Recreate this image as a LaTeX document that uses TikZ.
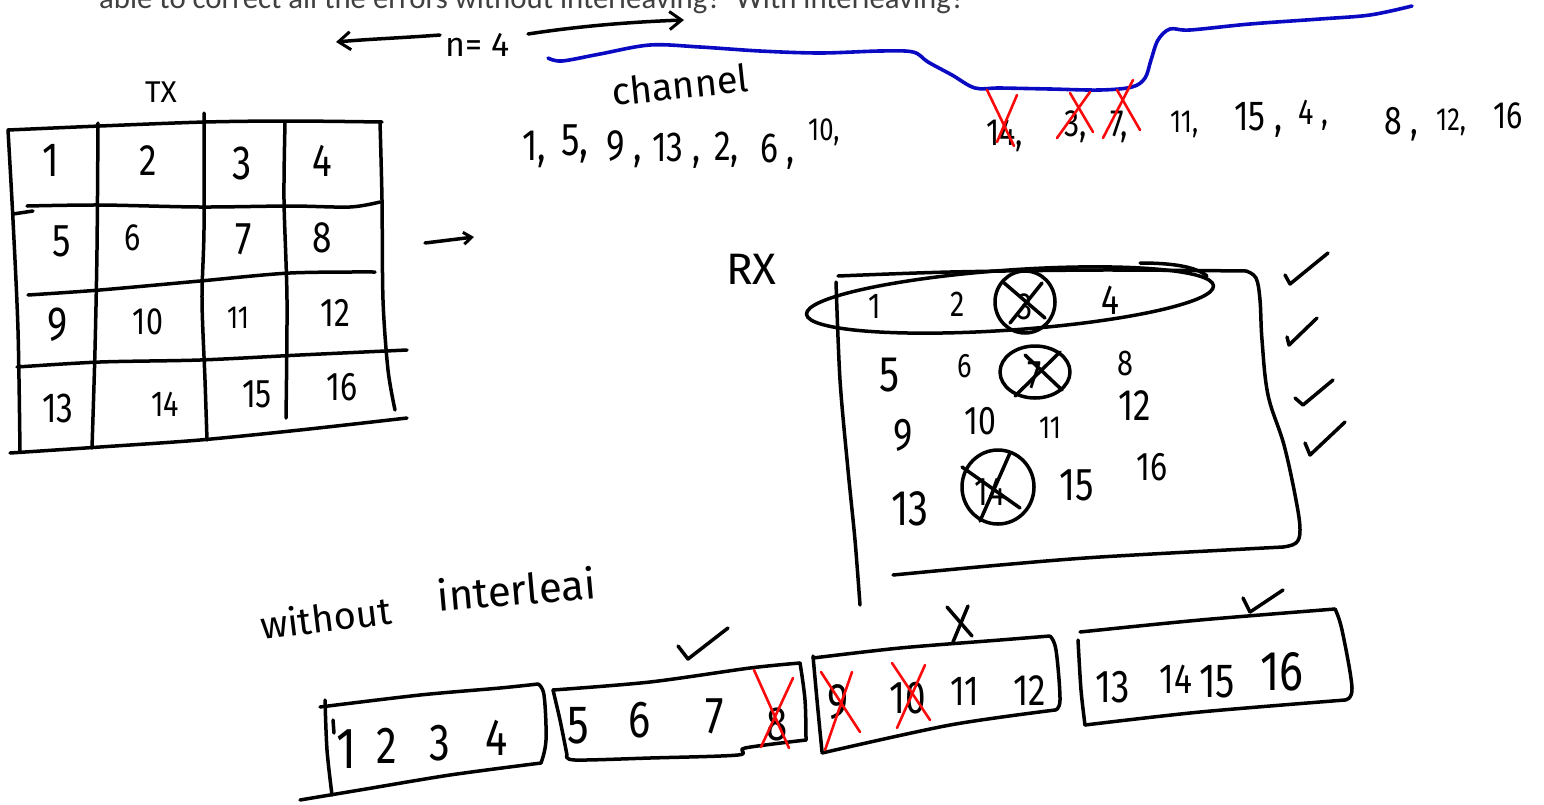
\documentclass[tikz,border=0pt]{standalone}
\usepackage{fontspec}
\setmainfont{Fira Sans}
\newfontfamily\topfont{Carlito}
\newfontfamily\hand[FakeStretch=0.8]{Fira Sans}
\usetikzlibrary{arrows.meta}
\definecolor{penblue}{RGB}{10,10,195}
\definecolor{penred}{RGB}{250,10,10}
\begin{document}
\begin{tikzpicture}[x=1pt,y=-1pt,
  ink/.style={line width=3.5pt,line cap=round,line join=round,black},
  redink/.style={line width=2.6pt,line cap=round,line join=round,penred},
  blueink/.style={line width=3.6pt,line cap=round,line join=round,penblue},
  hw/.style={inner sep=0pt,anchor=base,font=\hand\fontsize{#1}{#1}\selectfont},
  hl/.style={inner sep=0pt,anchor=base west,font=\hand\fontsize{#1}{#1}\selectfont},
  word/.style={inner sep=0pt,anchor=base west,font=\fontsize{#1}{#1}\selectfont},
  barb/.style={-{Straight Barb[length=12pt,width=18pt,line width=3pt]}},
]
\useasboundingbox (0,0) rectangle (1544,804);
\clip (0,0) rectangle (1544,804);

% question text, cut at the top
\node[anchor=base west,inner sep=0pt,text=black!75,font=\topfont\fontsize{30.8}{30.8}\selectfont] (question) at (99,8) {able to correct all the errors without interleaving?\ \ With interleaving?};

% n = 4 with arrows
\node[word=34] (nlabel) at (445,56) {n= 4};
\coordinate (nlstart) at (440,35);
\coordinate (nltip) at (336,42);
\coordinate (nrstart) at (528,34);
\coordinate (nrtip) at (684,20);
\draw[ink,barb] (nlstart) .. controls (400,38) and (370,39) .. (nltip);
\draw[ink,barb] (nrstart) .. controls (580,26) and (630,22) .. (nrtip);

% channel curve
\draw[blueink] plot[smooth,tension=0.55] coordinates {(548,58) (562,61) (600,54) (650,45) (700,47) (760,51) (820,53) (880,51) (913,52) (928,62) (952,75) (975,88) (1000,88) (1050,89) (1100,90) (1132,87) (1145,78) (1151,60) (1158,40) (1170,29) (1190,30) (1250,24) (1320,19) (1370,15) (1412,6)};
\node[word=38,rotate=6] (channel) at (613,106) {channel};

% channel sequence
\node[hl=44] (c1) at (522,160) {1,};
\node[hl=46] (c2) at (561,155) {5,};
\node[hl=44] (c3) at (606,160) {9 ,};
\node[hl=42] (c4) at (652,161) {13 ,};
\node[hl=42] (c5) at (714,160) {2,};
\node[hl=42] (c6) at (760,162) {6 ,};
\node[hl=32] (c7) at (808,140) {10,};
\node[hl=38] (c8) at (986,145) {14,};
\node[hl=38] (c9) at (1064,136) {3,};
\node[hl=38] (c10) at (1110,136) {7,};
\node[hl=32] (c11) at (1170,132) {11,};
\node[hl=42] (c12) at (1234,130) {15 ,};
\node[hl=36] (c13) at (1298,124) {4 ,};
\node[hl=40] (c14) at (1384,134) {8 ,};
\node[hl=32] (c15) at (1436,130) {12,};
\node[hl=38] (c16) at (1493,128) {16};
\draw[redink] (987,90) -- (1014,146);
\draw[redink] (1017,95) -- (997,142);
\draw[redink] (1090,92) -- (1057,138);
\draw[redink] (1070,93) -- (1093,132);
\draw[redink] (1133,80) -- (1103,138);
\draw[redink] (1117,90) -- (1140,130);

% TX grid
\node[word=30] (txlabel) at (145,102) {TX};
\draw[ink] plot[smooth] coordinates {(8,130) (100,126) (205,122) (290,121) (382,122)};
\draw[ink] plot[smooth] coordinates {(8,130) (13,220) (18,330) (20,452)};
\draw[ink] plot[smooth] coordinates {(98,123) (97,250) (95,350) (92,448)};
\draw[ink] plot[smooth] coordinates {(204,113) (204,230) (202,300) (205,380) (207,440)};
\draw[ink] plot[smooth] coordinates {(285,123) (284,200) (287,300) (286,418)};
\draw[ink] plot[smooth] coordinates {(380,122) (382,200) (383,300) (388,370) (395,410)};
\draw[ink] (13,214) -- (33,211);
\draw[ink] plot[smooth] coordinates {(27,206) (100,205) (200,207) (290,206) (350,207) (380,202)};
\draw[ink] plot[smooth] coordinates {(28,295) (100,290) (200,281) (290,273) (375,272)};
\draw[ink] plot[smooth] coordinates {(17,367) (100,362) (200,360) (300,355) (407,350)};
\draw[ink] plot[smooth] coordinates {(10,453) (100,447) (200,440) (300,430) (407,418)};
\node[hw=48] (t1) at (51,176) {1};
\node[hw=44] (t2) at (148,175) {2};
\node[hw=48] (t3) at (242,179) {3};
\node[hw=46] (t4) at (322,176) {4};
\node[hw=46] (t5) at (62,256) {5};
\node[hw=38] (t6) at (133,250) {6};
\node[hw=46] (t7) at (244,254) {7};
\node[hw=44] (t8) at (322,252) {8};
\node[hw=48] (t9) at (58,340) {9};
\node[hw=38] (t10) at (148,334) {10};
\node[hw=32] (t11) at (238,328) {11};
\node[hw=40] (t12) at (335,326) {12};
\node[hw=42] (t13) at (58,422) {13};
\node[hw=36] (t14) at (165,416) {14};
\node[hw=40] (t15) at (257,407) {15};
\node[hw=40] (t16) at (342,400) {16};
\coordinate (txarrowstart) at (425,243);
\coordinate (txarrowtip) at (474,237);
\draw[ink,-{Straight Barb[length=8pt,width=12pt,line width=3pt]}] (txarrowstart) -- (txarrowtip);

% RX box
\node[word=44] (rxlabel) at (726,284) {RX};
\draw[ink] plot[smooth] coordinates {(838,276) (950,272) (1100,270) (1246,271)};
\draw[ink] plot[smooth,tension=0.6] coordinates {(1246,271) (1256,278) (1260,300) (1262,340) (1268,395) (1284,445) (1296,500) (1300,530) (1296,543) (1283,547)};
\draw[ink] plot[smooth] coordinates {(1283,547) (1100,557) (1000,565) (893,575)};
\draw[ink] plot[smooth] coordinates {(836,282) (840,380) (848,470) (855,540) (860,605)};
\draw[ink,rotate around={4:(1010,300)}] (1010,300) ellipse [x radius=204, y radius=30];
\draw[ink] (1140,263) .. controls (1170,263) and (1195,266) .. (1207,276);

\node[hw=36] (r1) at (875,318) {1};
\node[hw=36] (r2) at (958,316) {2};
\node[hw=38] (r3) at (1025,319) {3};
\node[hw=42] (r4) at (1110,314) {4};
\node[hw=50] (r5) at (890,391) {5};
\node[hw=34] (r6) at (965,377) {6};
\node[hw=40] (r7) at (1035,388) {7};
\node[hw=36] (r8) at (1125,375) {8};
\node[hw=46] (r9) at (903,450) {9};
\node[hw=40] (r10) at (980,434) {10};
\node[hw=32] (r11) at (1050,438) {11};
\node[hw=44] (r12) at (1135,420) {12};
\node[hw=50] (r13) at (910,525) {13};
\node[hw=40] (r14) at (990,505) {14};
\node[hw=46] (r15) at (1077,500) {15};
\node[hw=40] (r16) at (1152,480) {16};
\draw[ink] (1025,302) ellipse [x radius=30, y radius=31];
\draw[ink] (1003,282) -- (1045,318);
\draw[ink] (1010,323) -- (1042,283);
\draw[ink] (1035,372) ellipse [x radius=35, y radius=26];
\draw[ink] (1015,396) -- (1060,352);
\draw[ink] (1025,355) -- (1062,390);
\draw[ink] (998,487) ellipse [x radius=36, y radius=37];
\draw[ink] (962,467) -- (1020,508);
\draw[ink] (980,521) -- (1010,453);
\draw[ink] (1285,275) -- (1290,284) -- (1328,253);
\draw[ink] (1287,337) -- (1289,345) -- (1317,318);
\draw[ink] (1295,398) -- (1303,405) -- (1333,380);
\draw[ink] (1305,443) -- (1310,455) -- (1345,422);

% without interleaving
\node[word=38,rotate=7] (without) at (262,640) {without};
\node[word=42,rotate=5] (interl) at (438,612) {interleai};

% bottom boxes
\draw[ink] plot[smooth] coordinates {(320,707) (420,695) (500,688) (538,684)};
\draw[ink] plot[smooth,tension=0.6] coordinates {(538,684) (544,695) (546,740) (541,763)};
\draw[ink] plot[smooth] coordinates {(541,763) (450,775) (360,790) (300,800)};
\draw[ink] plot[smooth] coordinates {(325,700) (327,750) (332,795)};
\draw[ink] (333,720) -- (334,733);
\node[hw=58] (b1) at (347,768) {1};
\node[hw=52] (b2) at (387,763) {2};
\node[hw=52] (b3) at (440,760) {3};
\node[hw=52] (b4) at (497,755) {4};

\draw[ink] plot[smooth] coordinates {(553,690) (650,682) (750,668) (800,663)};
\draw[ink] plot[smooth,tension=0.6] coordinates {(800,663) (805,700) (806,740)};
\draw[ink] plot[smooth] coordinates {(806,740) (745,748) (738,755) (650,758) (575,760) (567,755)};
\draw[ink] plot[smooth] coordinates {(567,755) (560,720) (553,690)};
\node[hw=54] (b5) at (578,743) {5};
\node[hw=52] (b6) at (640,737) {6};
\node[hw=52] (b7) at (715,733) {7};
\node[hw=48] (b8) at (777,740) {8};
\draw[redink] (754,670) -- (789,748);
\draw[redink] (793,678) -- (761,747);
\draw[ink] (678,646) -- (688,659) -- (728,628);

\draw[ink] plot[smooth] coordinates {(813,658) (900,648) (1000,640) (1050,636)};
\draw[ink] plot[smooth,tension=0.6] coordinates {(1050,636) (1056,650) (1060,700) (1055,710)};
\draw[ink] plot[smooth] coordinates {(1055,710) (950,725) (822,753)};
\draw[ink] plot[smooth] coordinates {(813,656) (817,700) (822,752)};
\node[hw=50] (b9) at (838,718) {9};
\node[hw=46] (b10) at (908,713) {10};
\node[hw=42] (b11) at (965,705) {11};
\node[hw=44] (b12) at (1030,705) {12};
\draw[redink] (821,672) -- (860,732);
\draw[redink] (852,672) -- (825,750);
\draw[redink] (892,663) -- (930,720);
\draw[redink] (925,665) -- (897,728);
\draw[ink] (947,607) -- (972,636);
\draw[ink] (968,606) -- (953,642);

\draw[ink] plot[smooth] coordinates {(1080,632) (1200,620) (1335,609)};
\draw[ink] plot[smooth,tension=0.6] coordinates {(1335,609) (1342,630) (1352,688) (1345,700)};
\draw[ink] plot[smooth] coordinates {(1345,700) (1200,712) (1085,725)};
\draw[ink] plot[smooth] coordinates {(1078,640) (1081,690) (1085,725)};
\node[hw=46] (b13) at (1113,702) {13};
\node[hw=42] (b14) at (1176,693) {14};
\node[hw=48] (b15) at (1217,697) {15};
\node[hw=56] (b16) at (1282,690) {16};
\draw[ink] (1243,598) -- (1250,612);
\draw[ink] (1250,612) -- (1283,590);
\end{tikzpicture}
\end{document}
